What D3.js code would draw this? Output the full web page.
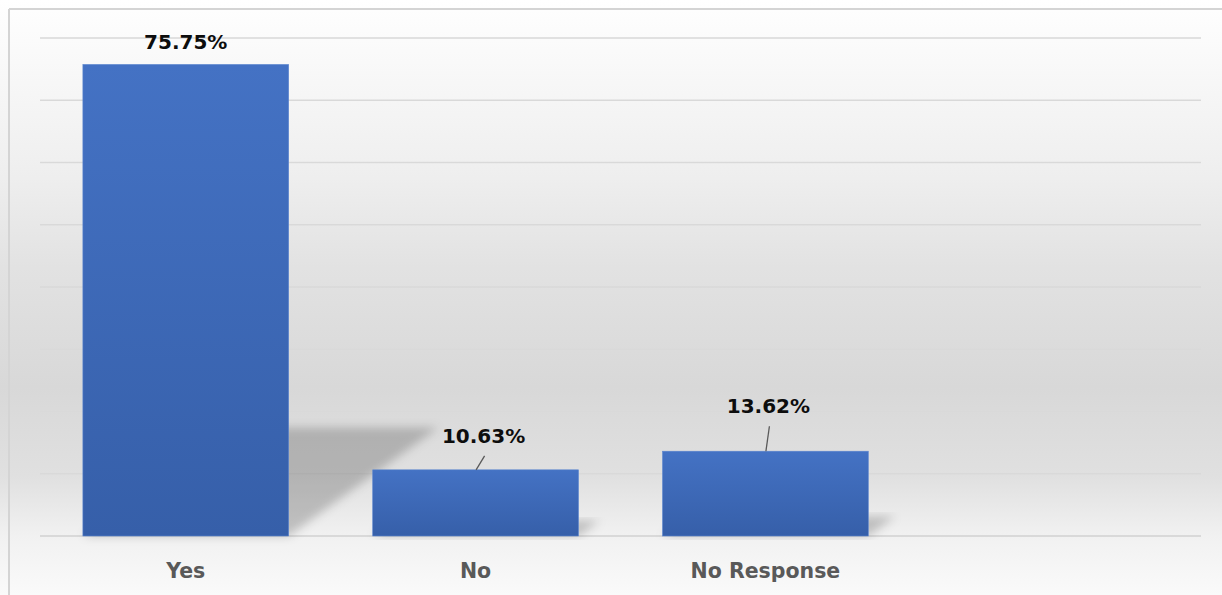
<!DOCTYPE html>
<html>
<head>
<meta charset="utf-8">
<script src="https://cdn.jsdelivr.net/npm/d3@7"></script>
<style>
  html, body { margin: 0; padding: 0; background: #ffffff; }
  svg { display: block; }
</style>
</head>
<body>
<svg id="chart" width="1222" height="595"></svg>
<script>
// ---- data ----
const categories = ["Yes", "No", "No Response", ""];
const values = [75.75, 10.63, 13.62];
const yTicks = [0, 10, 20, 30, 40, 50, 60, 70, 80];
// manual data-label nudges (layout, px): [dx, gap above bar]
const labelDx = [0, 8, 3];
const labelGap = [15, 27, 38];

const W = 1222, H = 595;
const margin = { left: 40, right: 21, top: 38, bottom: 59 };
const svg = d3.select("#chart");
const defs = svg.append("defs");

// background gradient
const bg = defs.append("linearGradient").attr("id", "bg").attr("x1", 0).attr("y1", 0).attr("x2", 0).attr("y2", 1);
[[0, "#ffffff"], [0.05, "#fcfcfc"], [0.3, "#eeeeee"], [0.45, "#e2e2e2"], [0.65, "#d8d8d8"],
 [0.8, "#e0e0e0"], [0.9, "#f1f1f1"], [1, "#fafafa"]].forEach(([o, c]) =>
  bg.append("stop").attr("offset", o).attr("stop-color", c));

// bar gradient
const bar = defs.append("linearGradient").attr("id", "barG").attr("x1", 0).attr("y1", 0).attr("x2", 0).attr("y2", 1);
bar.append("stop").attr("offset", 0).attr("stop-color", "#4472c4");
bar.append("stop").attr("offset", 1).attr("stop-color", "#365fa9");

const blur = defs.append("filter").attr("id", "blur").attr("x", "-20%").attr("y", "-20%").attr("width", "140%").attr("height", "140%");
blur.append("feGaussianBlur").attr("stdDeviation", 5);

svg.append("rect").attr("x", 0).attr("y", 0).attr("width", W).attr("height", H).attr("fill", "url(#bg)");

// frame (top & left edges)
svg.append("line").attr("x1", 9).attr("x2", W).attr("y1", 9).attr("y2", 9).attr("stroke", "#d4d4d4").attr("stroke-width", 2);
svg.append("line").attr("x1", 9).attr("x2", 9).attr("y1", 9).attr("y2", H).attr("stroke", "#d4d4d4").attr("stroke-width", 2);

const x = d3.scaleBand().domain(categories)
  .range([margin.left, W - margin.right])
  .paddingInner(0.29).paddingOuter(0.148);
const y = d3.scaleLinear().domain([0, 80]).range([H - margin.bottom, margin.top]);

// gridlines
svg.append("g").selectAll("line").data(yTicks).join("line")
  .attr("x1", margin.left).attr("x2", W - margin.right)
  .attr("y1", d => y(d)).attr("y2", d => y(d))
  .attr("stroke", d => d === 0 ? "#d0d0d0" : "#d9d9d9")
  .attr("stroke-width", 1.6);

const data = values.map((v, i) => ({ cat: categories[i], v, i }));
const base = y(0);
const cx = d => x(d.cat) + x.bandwidth() / 2;

// perspective shadows
svg.append("g").selectAll("path").data(data).join("path")
  .attr("d", d => {
    const x0 = x(d.cat), x1 = x0 + x.bandwidth();
    const h = base - y(d.v);
    const s = 0.23 * h, dx = 1.38 * s;
    return `M${x0},${base}L${x1},${base}L${x1 + dx},${base - s}L${x0 + dx},${base - s}Z`;
  })
  .attr("fill", "rgba(0,0,0,0.2)")
  .attr("filter", "url(#blur)");

// bars
svg.append("g").selectAll("rect").data(data).join("rect")
  .attr("x", d => x(d.cat)).attr("y", d => y(d.v))
  .attr("width", x.bandwidth()).attr("height", d => base - y(d.v))
  .attr("fill", "url(#barG)")
  .attr("stroke", "#5b85cf").attr("stroke-width", 0.6);

// leader lines
svg.append("g").selectAll("line").data(data.filter(d => labelGap[d.i] > 20)).join("line")
  .attr("x1", d => cx(d) + 0.5)
  .attr("y1", d => y(d.v))
  .attr("x2", d => cx(d) + labelDx[d.i] + 1)
  .attr("y2", d => y(d.v) - labelGap[d.i] + 13)
  .attr("stroke", "#595959").attr("stroke-width", 1.3);

// data labels
const fmt = d3.format(".2f");
svg.append("g").selectAll("text").data(data).join("text")
  .attr("x", d => cx(d) + labelDx[d.i])
  .attr("y", d => y(d.v) - labelGap[d.i])
  .attr("text-anchor", "middle")
  .attr("font-family", "DejaVu Sans, Verdana, sans-serif")
  .attr("font-weight", "bold").attr("font-size", 20)
  .attr("fill", "#0d0d0d")
  .text(d => fmt(d.v) + "%");

// category axis labels
svg.append("g").selectAll("text").data(categories).join("text")
  .attr("x", d => x(d) + x.bandwidth() / 2)
  .attr("y", 578)
  .attr("text-anchor", "middle")
  .attr("font-family", "DejaVu Sans, Verdana, sans-serif")
  .attr("font-weight", "bold").attr("font-size", 20.5)
  .attr("fill", "#595959")
  .text(d => d);
</script>
</body>
</html>
